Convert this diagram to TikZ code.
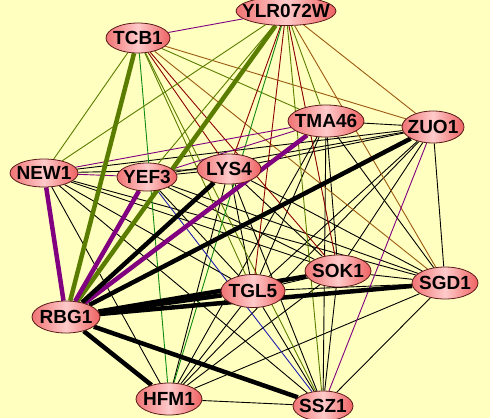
\documentclass[tikz,border=0pt]{standalone}
\usepackage{fontspec}
\setmainfont{Liberation Sans}
\usetikzlibrary{shapes.geometric}
\definecolor{bgc}{HTML}{FFFFC0}
\definecolor{olv}{HTML}{5A7D00}
\definecolor{dred}{HTML}{8B0000}
\definecolor{brn}{HTML}{9A5A10}
\definecolor{grn}{HTML}{108A10}
\definecolor{prp}{HTML}{800080}
\definecolor{blu}{HTML}{2020B0}
\definecolor{nodel}{HTML}{F07474}
\definecolor{nodem}{HTML}{FFCACA}
\definecolor{noder}{HTML}{EE6262}
\definecolor{nodeb}{HTML}{5A1A1A}
\pgfdeclarelayer{back}
\pgfdeclarelayer{edges}
\pgfsetlayers{back,edges,main}
\tikzset{
  gene/.style={ellipse, draw=nodeb, line width=0.8bp,
    left color=nodel, right color=noder, middle color=nodem,
    inner xsep=-12bp, inner ysep=-8bp,
    font=\fontsize{19bp}{19bp}\selectfont\bfseries, text=black},
  lk/.style={line width=0.9bp},
  hv/.style={line width=4.5bp},
}
\begin{document}
\begin{tikzpicture}[x=1bp,y=-1bp]
\useasboundingbox (0,0) rectangle (490,418);
\begin{pgfonlayer}{back}
\fill[bgc] (0,0) rectangle (490,418);
\end{pgfonlayer}
% nodes
\node[gene, minimum width=100bp, minimum height=29bp] (YLR072W) at (286,11) {YLR072W};
\node[gene, minimum width=64bp, minimum height=30bp] (TCB1) at (138,38) {TCB1};
\node[gene, minimum width=76bp, minimum height=32bp] (TMA46) at (326,121) {TMA46};
\node[gene, minimum width=62bp, minimum height=32bp] (ZUO1) at (433,127) {ZUO1};
\node[gene, minimum width=68bp, minimum height=28bp] (NEW1) at (44,173) {NEW1};
\node[gene, minimum width=60bp, minimum height=28bp] (YEF3) at (147,177) {YEF3};
\node[gene, minimum width=64bp, minimum height=30bp] (LYS4) at (229,169) {LYS4};
\node[gene, minimum width=68bp, minimum height=32bp] (RBG1) at (66,317) {RBG1};
\node[gene, minimum width=66bp, minimum height=32bp] (HFM1) at (169,399) {HFM1};
\node[gene, minimum width=64bp, minimum height=33bp] (TGL5) at (253,291) {TGL5};
\node[gene, minimum width=66bp, minimum height=32bp] (SOK1) at (338,271) {SOK1};
\node[gene, minimum width=66bp, minimum height=32bp] (SGD1) at (445,283) {SGD1};
\node[gene, minimum width=60bp, minimum height=30bp] (SSZ1) at (323,406) {SSZ1};
% edges
\begin{pgfonlayer}{edges}
\foreach \a/\b in {NEW1/LYS4, NEW1/ZUO1, NEW1/TGL5, NEW1/SOK1, NEW1/SGD1, NEW1/HFM1, NEW1/SSZ1,
  YEF3/LYS4, YEF3/ZUO1, YEF3/TGL5, YEF3/SOK1, YEF3/SGD1,
  LYS4/ZUO1, LYS4/TGL5, LYS4/SOK1, LYS4/SGD1, LYS4/HFM1, LYS4/SSZ1,
  TMA46/ZUO1, TMA46/TGL5, TMA46/SOK1, TMA46/SGD1, TMA46/HFM1, TMA46/SSZ1,
  ZUO1/TGL5, ZUO1/SOK1, ZUO1/SGD1, ZUO1/HFM1,
  TGL5/SOK1, TGL5/SGD1, TGL5/HFM1, TGL5/SSZ1,
  SOK1/SGD1, SOK1/HFM1, SOK1/SSZ1,
  SGD1/HFM1, SGD1/SSZ1, HFM1/SSZ1}
  \draw[lk, black] (\a) -- (\b);
\foreach \a/\b/\c in {TCB1/YLR072W/prp, TCB1/NEW1/olv, TCB1/HFM1/grn, TCB1/LYS4/dred,
  TCB1/TGL5/olv, TCB1/SSZ1/olv, TCB1/SOK1/dred, TCB1/SGD1/brn, TCB1/TMA46/olv, TCB1/ZUO1/brn,
  YLR072W/NEW1/olv, YLR072W/YEF3/olv, YLR072W/LYS4/dred, YLR072W/HFM1/grn, YLR072W/TGL5/dred,
  YLR072W/SSZ1/olv, YLR072W/SOK1/dred, YLR072W/TMA46/olv, YLR072W/SGD1/brn, YLR072W/ZUO1/brn,
  NEW1/YEF3/prp, NEW1/TMA46/prp, YEF3/TMA46/prp, YEF3/SSZ1/blu, ZUO1/SSZ1/prp}
  \draw[lk, \c] (\a) -- (\b);
\foreach \a/\b/\c in {RBG1/TCB1/olv, RBG1/YLR072W/olv, RBG1/NEW1/prp, RBG1/YEF3/prp, RBG1/TMA46/prp,
  RBG1/LYS4/black, RBG1/ZUO1/black, RBG1/TGL5/black, RBG1/SOK1/black, RBG1/SGD1/black,
  RBG1/HFM1/black, RBG1/SSZ1/black}
  \draw[hv, \c] (\a) -- (\b);
\end{pgfonlayer}
\end{tikzpicture}
\end{document}
